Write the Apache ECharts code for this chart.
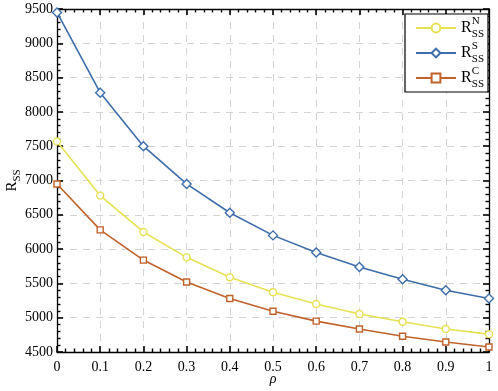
<!DOCTYPE html>
<html lang="en">
<head>
  <meta charset="UTF-8">
  <title>RSS</title>
  <script src="https://cdn.jsdelivr.net/npm/echarts@6/dist/echarts.min.js"></script>
  <style>
    html,body{margin:0;padding:0;background:#fff;}
    #main{width:498px;height:391px;}
  </style>
</head>
<body>
<div id="main"></div>
<script>
  var rho = ['0','0.1','0.2','0.3','0.4','0.5','0.6','0.7','0.8','0.9','1'];
  var rssN = [7570,6780,6250,5880,5590,5370,5200,5055,4940,4835,4760];
  var rssS = [9450,8280,7500,6950,6530,6200,5950,5740,5560,5400,5280];
  var rssC = [6950,6280,5840,5520,5280,5095,4950,4835,4730,4645,4572];

  var names = ['N','S','C'];
  var colors = ['#e6e155','#3e6dac','#c0622c'];
  var font = 'Liberation Serif';

  var chart = echarts.init(document.getElementById('main'));

  function mkSeries(name, data, color, symbol, size){
    return {
      name:name, type:'line', data:data.map(function(v,i){return [+rho[i],v];}),
      symbol:symbol, symbolSize:size, showAllSymbol:true,
      lineStyle:{color:color,width:1.6},
      itemStyle:{color:'#fff',borderColor:color,borderWidth:1.4},
      xAxisIndex:0, yAxisIndex:0, z:3
    };
  }

  function tick(){ return {show:true,inside:true,length:6,lineStyle:{color:'#000',width:1.6}}; }
  function minor(){ return {show:true,splitNumber:5,length:3.5,lineStyle:{color:'#000',width:1.4}}; }
  function line(){ return {show:true,onZero:false,lineStyle:{color:'#000',width:1.3}}; }
  function split(){ return {show:true,lineStyle:{color:'#d4d4d4',type:[7,6],width:1}}; }

  chart.setOption({
    animation:false,
    grid:{left:57,right:9,top:9,bottom:39,outerBoundsMode:'none'},
    legend:{
      orient:'vertical', right:10, top:14,
      data:names,
      itemWidth:40, itemHeight:11, itemGap:1,
      borderColor:'#000', borderWidth:1.2, padding:[2,4,2,10],
      backgroundColor:'#fff',
      formatter:function(n){return '{r|R}{sup|'+n+'}{sub|SS}';},
      textStyle:{
        fontFamily:font, color:'#000',
        rich:{
          r:{fontSize:16,fontFamily:font,lineHeight:24,verticalAlign:'middle'},
          sup:{fontSize:11,fontFamily:font,width:0.1,lineHeight:24,verticalAlign:'top'},
          sub:{fontSize:11,fontFamily:font,lineHeight:24,verticalAlign:'bottom'}
        }
      }
    },
    xAxis:[{
      type:'value', min:0, max:1, interval:0.1,
      name:'ρ', nameLocation:'middle', nameGap:20, nameMoveOverlap:false,
      nameTextStyle:{fontFamily:font,fontStyle:'italic',fontSize:14,color:'#000'},
      axisLine:line(), axisTick:tick(), minorTick:minor(),
      axisLabel:{fontFamily:font,fontSize:14,color:'#000',margin:8,
        formatter:function(v){return String(Math.round(v*10)/10);}},
      splitLine:split()
    },{
      type:'value', min:0, max:1, interval:0.1, position:'top',
      axisLine:line(), axisTick:tick(), minorTick:minor(),
      axisLabel:{show:false}, splitLine:{show:false}
    }],
    yAxis:[{
      type:'value', min:4500, max:9500, interval:500,
      name:'{r|R}{sub|SS}', nameLocation:'middle', nameGap:34, nameMoveOverlap:false,
      nameTextStyle:{fontFamily:font,color:'#000',
        rich:{r:{fontSize:15,fontFamily:font,lineHeight:22,verticalAlign:'middle'},
              sub:{fontSize:11,fontFamily:font,lineHeight:22,verticalAlign:'bottom'}}},
      axisLine:line(), axisTick:tick(), minorTick:minor(),
      axisLabel:{fontFamily:font,fontSize:14,color:'#000',margin:4,
        formatter:function(v){return String(v);}},
      splitLine:split()
    },{
      type:'value', min:4500, max:9500, interval:500, position:'right',
      axisLine:line(), axisTick:tick(), minorTick:minor(),
      axisLabel:{show:false}, splitLine:{show:false}
    }],
    series:[
      mkSeries('N', rssN, colors[0], 'circle', 7),
      mkSeries('S', rssS, colors[1], 'diamond', 9),
      mkSeries('C', rssC, colors[2], 'rect', 6)
    ]
  });
</script>
</body>
</html>
